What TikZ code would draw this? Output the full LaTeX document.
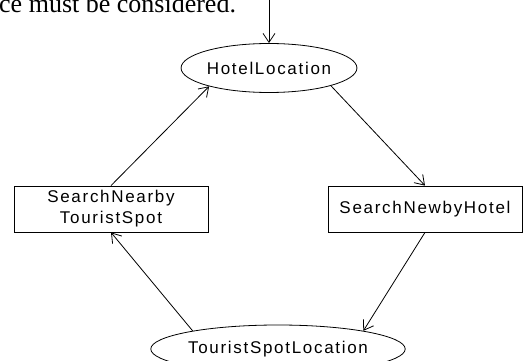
\documentclass[tikz,border=0pt]{standalone}
\usepackage{fontspec}
\setmainfont{Liberation Serif}
\newfontfamily\labelfont[LetterSpace=10]{Liberation Sans}
\usetikzlibrary{shapes.geometric,arrows.meta}

\begin{document}
\begin{tikzpicture}[x=1pt,y=-1pt,
  lbl/.style={font=\labelfont\fontsize{17}{21}\selectfont, align=center},
  state/.style={lbl, draw, ellipse, inner sep=0pt, line width=0.8pt},
  proc/.style={lbl, draw, rectangle, inner sep=0pt, line width=0.8pt},
  flow/.style={line width=0.8pt, -{Straight Barb[length=9pt,width=12pt]}}
]
\useasboundingbox (0,0) rectangle (530,361);
\clip (0,0) rectangle (530,361);
\fill[white] (0,0) rectangle (530,361);

% end of the preceding sentence of the text
\node[anchor=base west, inner sep=0pt, font=\fontsize{26}{30}\selectfont] (caption) at (-1,12.5) {ce must be considered.};

% states and processes
\node[state, minimum width=168pt, minimum height=49pt] (hl) at (269,68) {HotelLocation};
\node[proc, minimum width=194pt, minimum height=46pt] (snh) at (425,209) {SearchNewbyHotel};
\node[proc, minimum width=194pt, minimum height=46pt] (snt) at (111,209) {SearchNearby\\TouristSpot};
\node[state, minimum width=227pt, minimum height=48pt] (tsl) at (278,349) {TouristSpotLocation};

% flow
\coordinate (entry) at (269,0);
\draw[flow] (entry) -- (hl.north);
\draw[flow] (hl.-16) -- (snh.north);
\draw[flow] (snh.south) -- (tsl.12);
\draw[flow] (tsl.168) -- (snt.south);
\draw[flow] (snt.north) -- (hl.-163);
\end{tikzpicture}
\end{document}
